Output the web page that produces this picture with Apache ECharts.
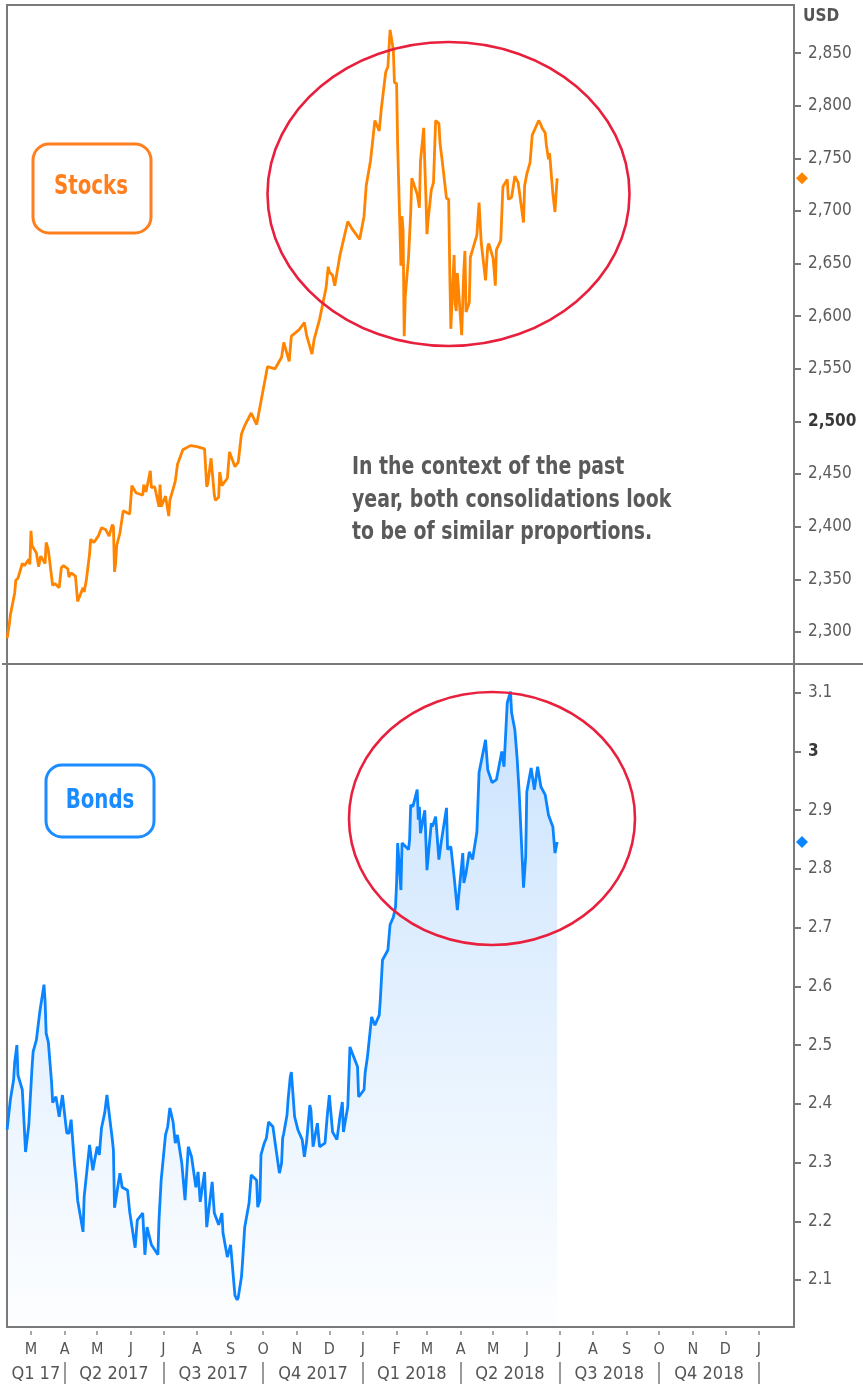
<!DOCTYPE html>
<html><head><meta charset="utf-8">
<script src="https://cdn.jsdelivr.net/npm/echarts@6/dist/echarts.min.js"></script>
<style>html,body{margin:0;padding:0;background:#fff}#c{width:863px;height:1389px}</style>
</head><body><div id="c"></div>
<script>
// ---------- DATA ----------
const stockDates = ['2017-02-07','2017-02-09','2017-02-10','2017-02-14','2017-02-15','2017-02-17','2017-02-21','2017-02-23','2017-02-27','2017-02-28',
'2017-03-01','2017-03-02','2017-03-06','2017-03-08','2017-03-10','2017-03-14','2017-03-15','2017-03-17','2017-03-21','2017-03-23','2017-03-27','2017-03-29','2017-03-31',
'2017-04-04','2017-04-05','2017-04-07','2017-04-11','2017-04-13','2017-04-18','2017-04-19','2017-04-21','2017-04-24','2017-04-25','2017-04-28',
'2017-05-02','2017-05-05','2017-05-09','2017-05-12','2017-05-15','2017-05-16','2017-05-17','2017-05-18','2017-05-19','2017-05-22','2017-05-25','2017-05-31',
'2017-06-02','2017-06-06','2017-06-09','2017-06-12','2017-06-13','2017-06-15','2017-06-19','2017-06-20','2017-06-23','2017-06-27','2017-06-28','2017-06-29',
'2017-07-03','2017-07-06','2017-07-07','2017-07-12','2017-07-14','2017-07-19','2017-07-26',
'2017-08-01','2017-08-08','2017-08-10','2017-08-11','2017-08-14','2017-08-17','2017-08-18','2017-08-21','2017-08-22','2017-08-24','2017-08-29','2017-08-31',
'2017-09-05','2017-09-08','2017-09-11','2017-09-14','2017-09-20','2017-09-25','2017-09-29',
'2017-10-05','2017-10-12','2017-10-18','2017-10-20','2017-10-25','2017-10-27',
'2017-11-03','2017-11-08','2017-11-10','2017-11-15','2017-11-17','2017-11-22','2017-11-28','2017-11-30',
'2017-12-01','2017-12-04','2017-12-06','2017-12-11','2017-12-18','2017-12-22','2017-12-29',
'2018-01-02','2018-01-04','2018-01-08','2018-01-12','2018-01-16','2018-01-18','2018-01-22','2018-01-24','2018-01-26','2018-01-29','2018-01-30',
'2018-02-01','2018-02-02','2018-02-05','2018-02-06','2018-02-07','2018-02-08','2018-02-09','2018-02-12','2018-02-14','2018-02-15','2018-02-16','2018-02-20','2018-02-22','2018-02-23','2018-02-26','2018-02-27','2018-02-28',
'2018-03-01','2018-03-02','2018-03-05','2018-03-07','2018-03-09','2018-03-12','2018-03-13','2018-03-15','2018-03-19','2018-03-21','2018-03-22','2018-03-23','2018-03-26','2018-03-27','2018-03-28','2018-03-29',
'2018-04-02','2018-04-03','2018-04-04','2018-04-05','2018-04-06','2018-04-09','2018-04-10','2018-04-12','2018-04-16','2018-04-18','2018-04-20','2018-04-24','2018-04-26','2018-04-27',
'2018-05-01','2018-05-03','2018-05-04','2018-05-08','2018-05-10','2018-05-14','2018-05-15','2018-05-18','2018-05-21','2018-05-24','2018-05-29','2018-05-30',
'2018-06-01','2018-06-04','2018-06-06','2018-06-12','2018-06-14','2018-06-15','2018-06-18','2018-06-19','2018-06-21','2018-06-22','2018-06-25','2018-06-27','2018-06-28','2018-06-29'];
const stockValues = [2294,2307,2316,2337,2349,2351,2365,2363,2369,2364,
2396,2382,2375,2362,2372,2365,2385,2378,2344,2346,2342,2361,2363,
2360,2352,2356,2353,2329,2342,2338,2349,2374,2388,2385,
2391,2399,2397,2391,2402,2400,2357,2365,2382,2394,2415,2412,
2439,2432,2431,2430,2440,2433,2453,2437,2438,2419,2440,2419,
2429,2410,2425,2443,2459,2473,2477,
2476,2474,2438,2441,2465,2430,2425,2428,2452,2439,2446,2471,
2457,2461,2488,2496,2508,2497,2519,
2552,2550,2561,2575,2557,2581,
2587,2594,2582,2564,2578,2597,2627,2647,
2642,2639,2629,2659,2690,2683,2673,
2695,2724,2748,2786,2776,2798,2832,2837,2872,2853,2822,
2821,2762,2648,2695,2681,2581,2619,2656,2698,2731,2732,2716,2703,2747,2779,2744,2714,
2678,2691,2720,2727,2786,2783,2765,2748,2712,2711,2643,2588,2658,2612,2605,2641,
2582,2614,2644,2662,2604,2613,2656,2663,2677,2708,2670,2634,2666,2669,
2655,2629,2663,2672,2723,2730,2711,2713,2733,2727,2689,2724,
2735,2746,2772,2786,2782,2779,2774,2763,2749,2755,2717,2699,2716,2731];

const bondDates = ['2017-02-07','2017-02-10','2017-02-13','2017-02-14','2017-02-16','2017-02-17','2017-02-21','2017-02-22','2017-02-24','2017-02-27',
'2017-03-02','2017-03-03','2017-03-06','2017-03-09','2017-03-13','2017-03-14','2017-03-15','2017-03-17','2017-03-20','2017-03-21','2017-03-24','2017-03-27','2017-03-30',
'2017-04-03','2017-04-05','2017-04-07','2017-04-10','2017-04-12','2017-04-13','2017-04-18','2017-04-19','2017-04-24','2017-04-27',
'2017-05-01','2017-05-03','2017-05-05','2017-05-08','2017-05-10','2017-05-15','2017-05-16','2017-05-17','2017-05-22','2017-05-24','2017-05-29','2017-05-31',
'2017-06-05','2017-06-07','2017-06-12','2017-06-14','2017-06-16','2017-06-20','2017-06-26','2017-06-27','2017-06-29',
'2017-07-03','2017-07-05','2017-07-07','2017-07-10','2017-07-12','2017-07-14','2017-07-18','2017-07-21','2017-07-24','2017-07-27','2017-07-31',
'2017-08-02','2017-08-04','2017-08-08','2017-08-10','2017-08-15','2017-08-17','2017-08-21','2017-08-24','2017-08-25','2017-08-29',
'2017-09-01','2017-09-05','2017-09-07','2017-09-08','2017-09-11','2017-09-12','2017-09-14','2017-09-18','2017-09-20','2017-09-25','2017-09-26','2017-09-28','2017-09-29',
'2017-10-02','2017-10-04','2017-10-06','2017-10-10','2017-10-13','2017-10-16','2017-10-18','2017-10-19','2017-10-20','2017-10-23','2017-10-24','2017-10-26','2017-10-27','2017-10-30',
'2017-11-02','2017-11-06','2017-11-08','2017-11-10','2017-11-13','2017-11-14','2017-11-16','2017-11-20','2017-11-22','2017-11-27','2017-11-29',
'2017-12-01','2017-12-04','2017-12-08','2017-12-11','2017-12-13','2017-12-14','2017-12-18','2017-12-20','2017-12-22','2017-12-27','2017-12-28',
'2018-01-02','2018-01-03','2018-01-05','2018-01-09','2018-01-12','2018-01-16','2018-01-17','2018-01-19','2018-01-24','2018-01-26','2018-01-29','2018-01-31',
'2018-02-01','2018-02-02','2018-02-05','2018-02-06','2018-02-12','2018-02-13','2018-02-14','2018-02-16','2018-02-20','2018-02-21','2018-02-22','2018-02-23','2018-02-27',
'2018-03-01','2018-03-05','2018-03-06','2018-03-09','2018-03-12','2018-03-14','2018-03-19','2018-03-20','2018-03-23','2018-03-26','2018-03-29',
'2018-04-03','2018-04-04','2018-04-06','2018-04-09','2018-04-12','2018-04-16','2018-04-18','2018-04-24','2018-04-26','2018-04-30',
'2018-05-04','2018-05-09','2018-05-11','2018-05-14','2018-05-17','2018-05-18','2018-05-21','2018-05-23','2018-05-25','2018-05-29','2018-05-31',
'2018-06-01','2018-06-05','2018-06-08','2018-06-11','2018-06-14','2018-06-18','2018-06-21','2018-06-25','2018-06-27','2018-06-29'];
const bondValues = [2.356,2.407,2.441,2.471,2.500,2.449,2.424,2.390,2.318,2.364,
2.463,2.489,2.509,2.555,2.603,2.575,2.520,2.505,2.436,2.402,2.412,2.378,2.415,
2.350,2.350,2.373,2.300,2.262,2.236,2.182,2.241,2.330,2.287,
2.327,2.313,2.359,2.385,2.415,2.339,2.321,2.223,2.282,2.258,2.253,2.216,
2.155,2.202,2.214,2.143,2.190,2.160,2.143,2.202,2.270,
2.347,2.361,2.393,2.369,2.333,2.347,2.299,2.236,2.327,2.310,2.258,
2.284,2.233,2.284,2.190,2.267,2.214,2.194,2.214,2.180,2.139,
2.160,2.074,2.066,2.070,2.105,2.131,2.190,2.231,2.279,2.270,2.224,2.236,2.313,
2.333,2.342,2.369,2.361,2.321,2.282,2.299,2.342,2.350,2.381,2.407,2.446,2.454,2.378,
2.356,2.339,2.310,2.335,2.398,2.390,2.327,2.367,2.327,2.333,2.378,
2.415,2.352,2.339,2.381,2.403,2.352,2.395,2.497,2.487,2.463,2.412,
2.424,2.453,2.478,2.548,2.534,2.551,2.577,2.645,2.662,2.705,2.718,2.735,
2.776,2.844,2.764,2.844,2.833,2.850,2.909,2.906,2.935,2.884,2.906,2.861,2.900,
2.798,2.878,2.872,2.889,2.816,2.844,2.904,2.833,2.838,2.787,2.730,
2.827,2.776,2.793,2.829,2.816,2.863,2.964,3.020,2.969,2.947,
2.952,3.000,2.974,3.083,3.102,3.066,3.037,2.991,2.930,2.768,2.821,
2.931,2.972,2.935,2.974,2.940,2.926,2.892,2.872,2.827,2.846];

const stockTicks = [2300,2350,2400,2450,2500,2550,2600,2650,2700,2750,2800,2850];
const bondTicks = [2.1,2.2,2.3,2.4,2.5,2.6,2.7,2.8,2.9,3.0,3.1];
const monthTicks = ['2017-03-01','2017-04-01','2017-05-01','2017-06-01','2017-07-01','2017-08-01','2017-09-01','2017-10-01','2017-11-01','2017-12-01',
'2018-01-01','2018-02-01','2018-03-01','2018-04-01','2018-05-01','2018-06-01','2018-07-01','2018-08-01','2018-09-01','2018-10-01','2018-11-01','2018-12-01','2019-01-01'];
const monthLetters = ['J','F','M','A','M','J','J','A','S','O','N','D'];
const quarterLabels = ['Q1 17','Q2 2017','Q3 2017','Q4 2017','Q1 2018','Q2 2018','Q3 2018','Q4 2018'];
const quarterStarts = ['2017-01-01','2017-04-01','2017-07-01','2017-10-01','2018-01-01','2018-04-01','2018-07-01','2018-10-01','2019-01-01'];
const annotationLines = ['In the context of the past','year, both consolidations look','to be of similar proportions.'];

// ---------- CHART ----------
const DAY = 86400000;
function ts(s){const p=s.split('-').map(Number);return Date.UTC(p[0],p[1]-1,p[2]);}
const xMin = ts('2017-02-07') - 0.1*DAY;
const xMax = ts('2019-02-02') + 0.3*DAY;
const monthVals = monthTicks.map(ts);
const qBounds = quarterStarts.map(ts);
const qMids = quarterLabels.map((l,i)=>Math.round((Math.max(qBounds[i],xMin)+qBounds[i+1])/2));
const qSep = qBounds.filter(v=>v>xMin && v<xMax);
const FONT = '"DejaVu Sans Condensed","DejaVu Sans",sans-serif';
const AX = '#7a7a7a';
const ORANGE = '#FF8400', BLUE = '#0A84FF';
const fmtK = v => String(v).replace(/\B(?=(\d{3})+(?!\d))/g, ',');

const stockData = stockDates.map((d,i)=>[ts(d), stockValues[i]]);
const bondData = bondDates.map((d,i)=>[ts(d), bondValues[i]]);

function yAxisCommon(ticks, min, max, fmt){
  return {
    type:'value', position:'right', min:min, max:max,
    axisLine:{show:true, lineStyle:{color:AX, width:2}},
    axisTick:{show:true, customValues:ticks, length:7, lineStyle:{color:AX, width:2}},
    axisLabel:{customValues:ticks, margin:14, color:'#5c5c5c', fontSize:17, fontFamily:FONT,
      formatter:fmt, rich:{b:{fontWeight:'bold', color:'#383838', fontSize:17, fontFamily:FONT}}},
    splitLine:{show:false}
  };
}

const chart = echarts.init(document.getElementById('c'));
const option = {
  animation:false,
  backgroundColor:'#fff',
  grid:[
    {left:7, top:5, width:787, height:659, show:true, borderColor:AX, borderWidth:2, backgroundColor:'transparent'},
    {left:7, top:664, width:787, height:663, show:true, borderColor:AX, borderWidth:2, backgroundColor:'transparent'}
  ],
  xAxis:[
    {gridIndex:0, type:'value', min:xMin, max:xMax, show:false, splitLine:{show:false}},
    {gridIndex:1, type:'value', min:xMin, max:xMax, position:'bottom', offset:4,
      axisLine:{show:false},
      axisTick:{show:true, customValues:monthVals, length:4, lineStyle:{color:'#8a8a8a', width:1.5}},
      axisLabel:{customValues:monthVals, margin:11, color:'#555', fontSize:16, fontFamily:FONT,
        formatter:v=>monthLetters[new Date(v).getUTCMonth()]},
      splitLine:{show:false}},
    {gridIndex:1, type:'value', min:xMin, max:xMax, position:'bottom', offset:35,
      axisLine:{show:false},
      axisTick:{show:true, customValues:qSep, length:22, lineStyle:{color:'#7a7a7a', width:1.5}},
      axisLabel:{customValues:qMids, margin:3, color:'#555', fontSize:18, fontFamily:FONT,
        formatter:v=>{const i=qMids.indexOf(v);return i>=0?quarterLabels[i]:'';}},
      splitLine:{show:false}}
  ],
  yAxis:[
    Object.assign({gridIndex:0}, yAxisCommon(stockTicks, 2269.5, 2895.7, v=> v===2500?'{b|2,500}':fmtK(v))),
    Object.assign({gridIndex:1}, yAxisCommon(bondTicks, 2.02, 3.149, v=>{const r=Math.round(v*10)/10;return r===3?'{b|3}':String(r);}))
  ],
  series:[
    {name:'Stocks', type:'line', xAxisIndex:0, yAxisIndex:0, data:stockData, showSymbol:false,
      lineStyle:{color:ORANGE, width:2.8}, itemStyle:{color:ORANGE},
      markPoint:{symbol:'diamond', symbolSize:12, symbolOffset:[8,0], silent:true, label:{show:false},
        itemStyle:{color:ORANGE}, z:30,
        data:[{coord:[xMax, stockValues[stockValues.length-1]]}]}},
    {name:'Bonds', type:'line', xAxisIndex:1, yAxisIndex:1, data:bondData, showSymbol:false,
      lineStyle:{color:BLUE, width:2.8}, itemStyle:{color:BLUE},
      areaStyle:{color:new echarts.graphic.LinearGradient(0,0,0,1,[
        {offset:0,color:'rgba(20,130,250,0.32)'},{offset:1,color:'rgba(20,130,250,0.01)'}])},
      markPoint:{symbol:'diamond', symbolSize:12, symbolOffset:[8,0], silent:true, label:{show:false},
        itemStyle:{color:BLUE}, z:30,
        data:[{coord:[xMax, bondValues[bondValues.length-1]]}]}}
  ],
  graphic:[
    {type:'line', shape:{x1:2, y1:664, x2:863, y2:664}, style:{stroke:AX, lineWidth:2}, z:10},
    {type:'text', x:803, y:17, style:{text:'USD', font:'bold 17px '+FONT, fill:'#555', textVerticalAlign:'middle'}},
    {type:'ellipse', shape:{cx:448.5, cy:194, rx:181, ry:152}, style:{fill:'none', stroke:'#E8203E', lineWidth:2.6}, z:20},
    {type:'ellipse', shape:{cx:492, cy:818.5, rx:143, ry:126.5}, style:{fill:'none', stroke:'#E8203E', lineWidth:2.6}, z:20},
    {type:'rect', shape:{x:33, y:144, width:118, height:89, r:16}, style:{fill:'#fff', stroke:'#FF7F1E', lineWidth:3}, z:20},
    {type:'text', x:91, y:187, scaleY:1.2, style:{text:'Stocks', font:'bold 22px '+FONT, fill:'#FF7F1E', textAlign:'center', textVerticalAlign:'middle'}, z:21},
    {type:'rect', shape:{x:46, y:765, width:108, height:72, r:16}, style:{fill:'#fff', stroke:'#1A8CFF', lineWidth:3}, z:20},
    {type:'text', x:100, y:801, scaleY:1.2, style:{text:'Bonds', font:'bold 22px '+FONT, fill:'#1A8CFF', textAlign:'center', textVerticalAlign:'middle'}, z:21},
    {type:'text', x:352, y:452, scaleY:1.15, style:{text:annotationLines.join('\n'), font:'bold 21px '+FONT, lineHeight:28, fill:'#5a5a5a', textVerticalAlign:'top'}, z:21}
  ]
};
chart.setOption(option);
</script></body></html>
